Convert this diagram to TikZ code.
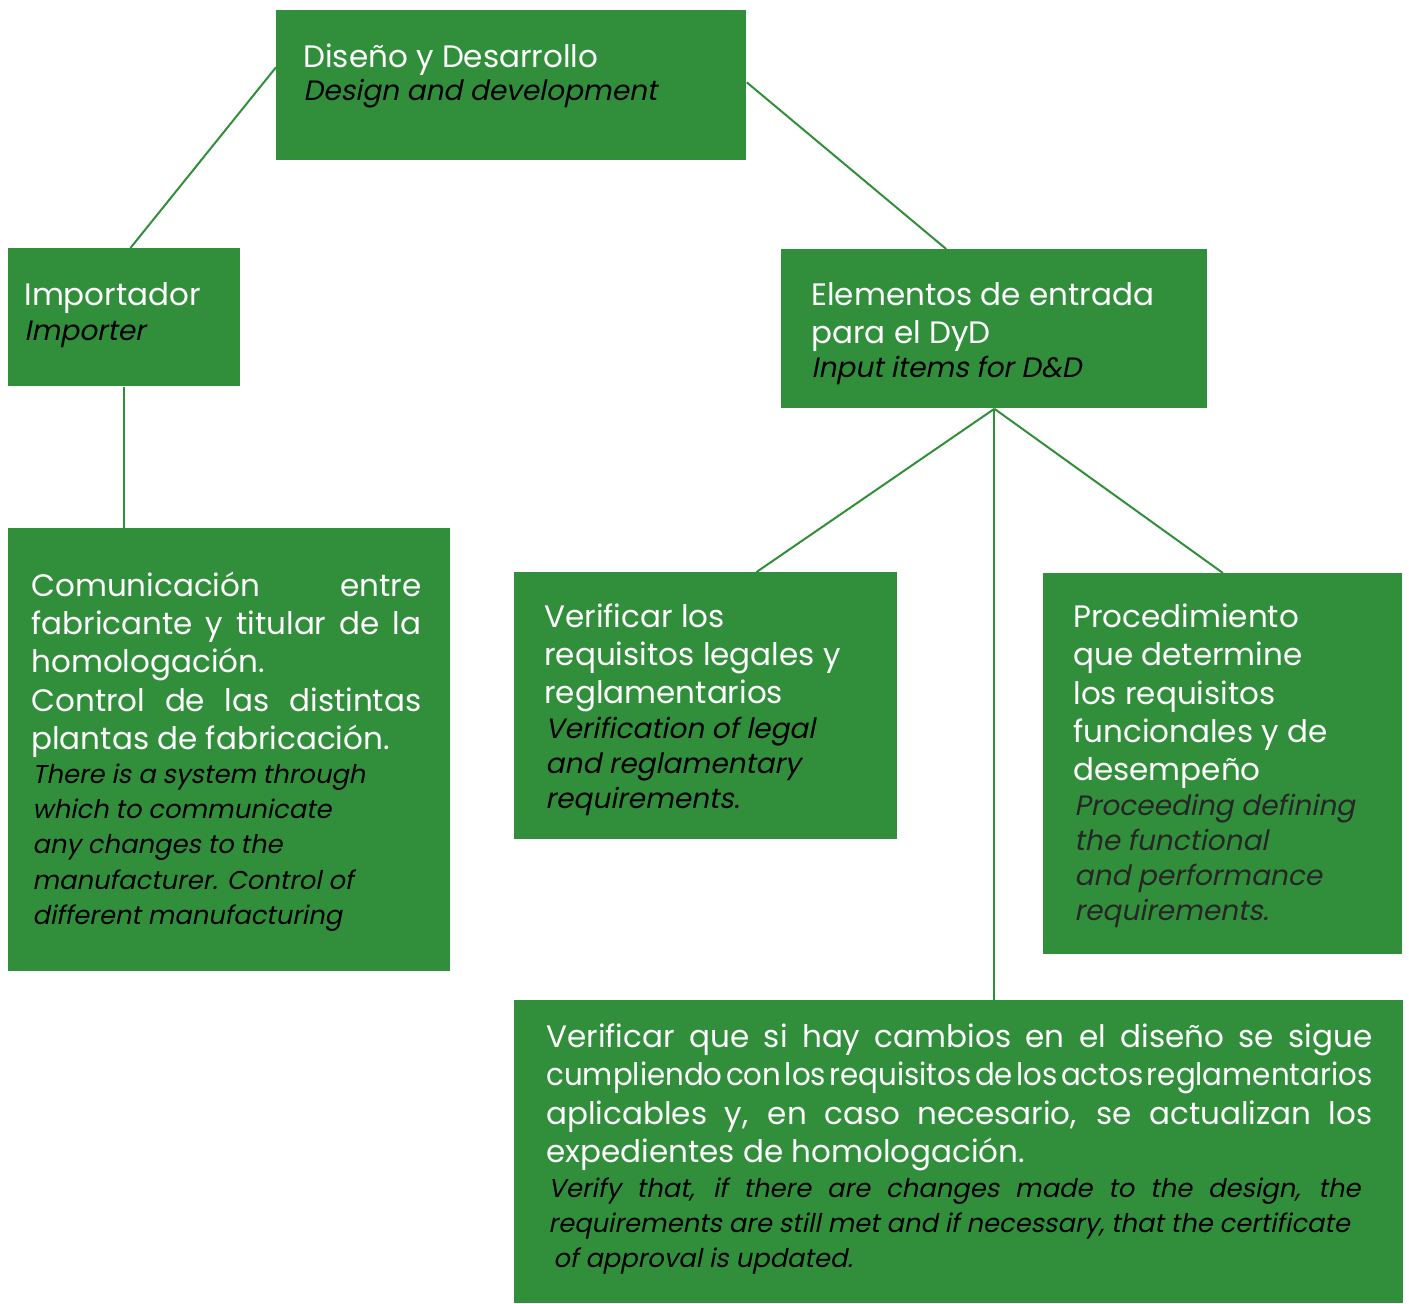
\documentclass[tikz,border=0pt]{standalone}
\usepackage{fontspec}
\setmainfont{Poppins}
\newfontfamily\itfont{Poppins}[FakeSlant=0.2]
\usepackage{xcolor}
\usepackage{graphicx}
\usepackage{tikz}
\usetikzlibrary{positioning,calc}

\definecolor{dgreen}{RGB}{49,143,59}
\newcommand{\esfont}{\fontsize{15.5}{19.15}\selectfont}
\newcommand{\enfont}{\itfont\fontsize{14}{17.5}\selectfont}
\newcommand{\ensmall}{\itfont\fontsize{12.9}{17.6}\selectfont}
\newcommand{\fst}{\rule{0pt}{13pt}}
\newcommand{\tightline}[1]{\resizebox{\linewidth}{\height}{\spaceskip=0.12em\relax #1}}

\tikzset{
  box/.style={fill=dgreen, anchor=north west, inner sep=0pt},
  es/.style={anchor=north west, inner sep=0pt, align=left, text=white, font=\esfont},
  en/.style={anchor=north west, inner sep=0pt, align=left, text=black, font=\enfont},
  link/.style={draw=dgreen, line width=1pt},
}

\begin{document}
\begin{tikzpicture}[x=0.5pt, y=-0.5pt]
    \useasboundingbox (0,0) rectangle (1409,1304);

    % boxes
    \node[box, minimum width=235pt, minimum height=75pt] (dyd) at (276,10) {};
    \node[box, minimum width=116pt, minimum height=69pt] (imp) at (8,248) {};
    \node[box, minimum width=213pt, minimum height=79.5pt] (ent) at (781,249) {};
    \node[box, minimum width=221pt, minimum height=221.5pt] (com) at (8,528) {};
    \node[box, minimum width=191.5pt, minimum height=133.5pt] (ver) at (514,572) {};
    \node[box, minimum width=179.5pt, minimum height=190.5pt] (pro) at (1043,573) {};
    \node[box, minimum width=444.5pt, minimum height=151.5pt] (upd) at (514,1000) {};

    % connectors
    \draw[link] ($(dyd.north west)!0.38!(dyd.south west)$) -- ($(imp.north west)!0.526!(imp.north east)$);
    \draw[link] ($(dyd.north east)!0.48!(dyd.south east)$) -- ($(ent.north west)!0.387!(ent.north east)$);
    \draw[link] (imp.south) -- (imp.south |- com.north);
    \draw[link] (ent.south) -- ($(ver.north west)!0.632!(ver.north east)$);
    \draw[link] (ent.south) -- (pro.north);
    \draw[link] (ent.south) -- (ent.south |- upd.north);

    % texts
    \node[es] (dydes) at (303,41) {\fst Diseño y Desarrollo};
    \node[en] (dyden) at (303,74) {\fst Design and development};

    \node[es] (impes) at (24,279) {\fst Importador};
    \node[en] (impen) at (24,314) {\fst Importer};

    \node[es] (entes) at (811,279) {\fst Elementos de entrada\\para el DyD};
    \node[en] (enten) at (811,351) {\fst Input items for D\&D};

    \node[es, text width=195pt, align=justify] (comes) at (31,570)
        {\fst Comunicación entre\linebreak fabricante y titular de la\linebreak homologación.\\
         Control de las distintas\linebreak plantas de fabricación.};
    \node[en, font=\ensmall] (comen) at (32,757) {\fst There is a system through\\which to communicate\\any changes to the\\manufacturer. Control of\\different manufacturing};

    \node[es] (veres) at (544,601) {\fst Verificar los\\requisitos legales y\\reglamentarios};
    \node[en] (veren) at (545,712) {\fst Verification of legal\\and reglamentary\\requirements.};

    \node[es] (proes) at (1073,601) {\fst Procedimiento\\que determine\\los requisitos\\funcionales y de\\desempeño};
    \node[en, text=black!85] (proen) at (1074,789) {\fst Proceeding defining\\the functional\\and performance\\requirements.};

    \node[es, text width=413pt, align=justify] (updes) at (546,1021)
        {\fst Verificar que si hay cambios en el diseño se sigue\linebreak
         \tightline{cumpliendo con los requisitos de los actos reglamentarios}\\
         aplicables y, en caso necesario, se actualizan los\linebreak
         expedientes de homologación.};
    \node[en, font=\ensmall, text width=406pt, align=justify] (upden) at (548,1171)
        {\fst Verify that, if there are changes made to the design, the\linebreak
         requirements are still met and if necessary, that the certificate\\
         \hspace*{2.5pt}of approval is updated.};
\end{tikzpicture}
\end{document}
